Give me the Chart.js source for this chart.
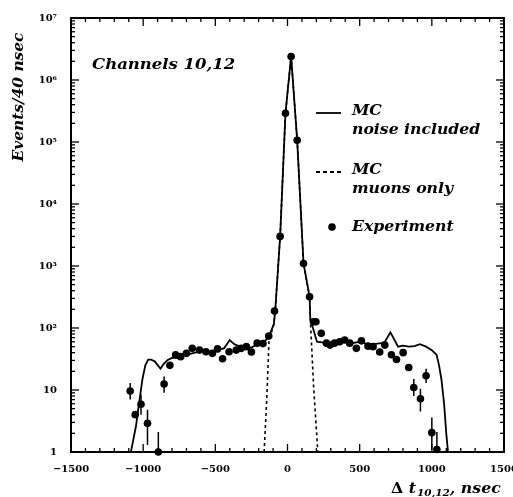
<!DOCTYPE html>
<html>
<head>
<meta charset="utf-8">
<script src="https://cdn.jsdelivr.net/npm/chart.js@4"></script>
<style>
  html,body{margin:0;padding:0;background:#fff;}
  canvas{display:block;}
</style>
</head>
<body>
<canvas id="chart" width="513" height="497"></canvas>
<script>
// ---------- data ----------
const xTickValues = [-1500, -1000, -500, 0, 500, 1000, 1500];
const yTickValues = [1, 10, 100, 1e3, 1e4, 1e5, 1e6, 1e7];
const yTickLabels = ['1', '10', '10²', '10³', '10⁴', '10⁵', '10⁶', '10⁷'];

// MC, noise included (solid)
const mcNoiseX = [-1085,-1050,-1025,-1005,-985,-965,-947,-920,-880,-860,-830,-800,-760,-720,-680,-640,-600,-560,-520,-480,-440,-400,-370,-330,-290,-250,-210,-170,-130,-95,-85,-51,-14,25,67,111,153,158,204,250,300,350,400,450,500,550,600,650,675,713,766,800,840,880,917,960,1000,1033,1050,1067,1085,1100,1112];
const mcNoiseY = [1,2.6,7,15,25,31,31,29,22,26,30.5,33,33,37,38,40,42,43,40,45,47,64,55,50,52,48,55,57,72,115,190,3000,2.9e5,2.4e6,1.07e5,1100,320,140,60,58,58,60,62,57,60,55,55,57,60,85,50,52,50,51,55,50,44,37,25,14.5,6,2,1];

// MC, muons only (dashed)
const mcMuonX = [-162,-144,-128,-95,-85,-51,-14,25,67,111,153,158,181,210];
const mcMuonY = [1,6.9,62,115,190,3000,2.9e5,2.4e6,1.07e5,1100,320,140,11.3,1];

// Experiment
const expX = [-1090,-1055,-1015,-970,-895,-855,-815,-775,-740,-700,-660,-610,-565,-520,-485,-450,-405,-355,-320,-285,-250,-210,-170,-130,-90,-51,-14,25,67,111,153,180,197,234,270,295,326,361,396,431,477,512,558,593,639,674,720,755,801,840,875,921,960,1000,1035];
const expY = [9.6,4.0,5.9,2.9,1.0,12.5,25,37,34.5,39,47,44,41.5,39,46,32,41.5,44,47,50,41,57,56,74,188,3000,2.9e5,2.4e6,1.07e5,1100,320,126,126,82,57,53,57,60,64,57,47,62,51,50,41,53,37,31,40,23,11,7.2,17,2.05,1.1];
// error bars where they show outside the markers (null = hidden)
const expErrLo = [7,null,4,1.3,1,9,null,null,null,null,null,null,null,null,null,null,null,null,null,null,null,null,null,null,null,null,null,null,null,null,null,null,null,null,null,null,null,null,null,null,null,null,null,null,null,null,null,null,null,null,8,4.5,13,1.1,1];
const expErrHi = [13,null,8.5,4.8,2.1,16.5,null,null,null,null,null,null,null,null,null,null,null,null,null,null,null,null,null,null,null,null,null,null,null,null,null,null,null,null,null,null,null,null,null,null,null,null,null,null,null,null,null,null,null,null,15,10.5,22,3.6,2.1];

const pts = (xs, ys) => xs.map((x, i) => ({x: x, y: ys[i]}));

// ---------- plugins ----------
const serif = '"DejaVu Serif", "Liberation Serif", serif';

const errorBars = {
    id: 'errorBars',
    afterDatasetsDraw(chart){
        const ctx = chart.ctx, x = chart.scales.x, y = chart.scales.y;
        ctx.save();
        ctx.strokeStyle = '#000';
        ctx.lineWidth = 1.5;
        expX.forEach((v, i) => {
            if(expErrLo[i] == null) return;
            const px = x.getPixelForValue(v);
            ctx.beginPath();
            ctx.moveTo(px, y.getPixelForValue(expErrLo[i]));
            ctx.lineTo(px, y.getPixelForValue(expErrHi[i]));
            ctx.stroke();
        });
        ctx.restore();
    }
};

// text a bit wider than the font gives, like the old bookman lettering
function wideText(ctx, s, x, y, sx){
    ctx.save();
    ctx.translate(x, y);
    ctx.scale(sx, 1);
    ctx.fillText(s, 0, 0);
    ctx.restore();
    return ctx.measureText(s).width * sx;
}

const frame = {
    id: 'frame',
    afterDraw(chart){
        const ctx = chart.ctx, a = chart.chartArea, x = chart.scales.x, y = chart.scales.y;
        ctx.save();
        ctx.strokeStyle = '#000';
        ctx.lineWidth = 1.3;

        function seg(x1, y1, x2, y2){
            ctx.beginPath(); ctx.moveTo(x1, y1); ctx.lineTo(x2, y2); ctx.stroke();
        }

        // x ticks, inward, bottom and top
        for(let v = -1500; v <= 1500; v += 100){
            const px = x.getPixelForValue(v);
            const len = v % 500 === 0 ? 8 : 4;
            seg(px, a.bottom, px, a.bottom - len);
            seg(px, a.top, px, a.top + len);
        }
        // y ticks (log), inward, left and right
        for(let d = 0; d < 7; d++){
            for(let m = 1; m < 10; m++){
                const py = y.getPixelForValue(m * Math.pow(10, d));
                const len = m === 1 ? 8 : 4;
                seg(a.left, py, a.left + len, py);
                seg(a.right, py, a.right - len, py);
            }
        }

        // box
        ctx.lineWidth = 2;
        ctx.strokeRect(a.left, a.top, a.right - a.left, a.bottom - a.top);

        // texts
        ctx.fillStyle = '#000';
        ctx.textBaseline = 'middle';
        ctx.textAlign = 'left';
        ctx.font = 'italic bold 15px ' + serif;
        wideText(ctx, 'Channels 10,12', 92, 65, 1.1);

        // legend
        ctx.lineWidth = 1.8;
        seg(316, 113, 341, 113);
        ctx.setLineDash([4, 3]);
        seg(316, 172, 342, 172);
        ctx.setLineDash([]);
        ctx.beginPath();
        ctx.arc(332, 227, 3.8, 0, Math.PI * 2);
        ctx.fill();

        ctx.font = 'italic bold 14px ' + serif;
        wideText(ctx, 'MC', 352, 111, 1.12);
        wideText(ctx, 'noise included', 352, 130, 1.12);
        wideText(ctx, 'MC', 352, 170, 1.12);
        wideText(ctx, 'muons only', 352, 189, 1.12);
        wideText(ctx, 'Experiment', 352, 227, 1.12);

        // y title
        ctx.save();
        ctx.translate(19, 97);
        ctx.rotate(-Math.PI / 2);
        ctx.font = 'italic bold 14px ' + serif;
        const w = ctx.measureText('Events/40 nsec').width * 1.1;
        wideText(ctx, 'Events/40 nsec', -w / 2, 0, 1.1);
        ctx.restore();

        // x title with subscript
        let tx = 391;
        const ty = 489;
        ctx.font = 'bold 15px ' + serif;
        tx += wideText(ctx, 'Δ ', tx, ty, 1.05);
        ctx.font = 'italic bold 15px ' + serif;
        tx += wideText(ctx, 't', tx, ty, 1.05) + 1;
        ctx.font = 'italic bold 10px ' + serif;
        tx += wideText(ctx, '10,12', tx, ty + 4, 1.05);
        ctx.font = 'italic bold 15px ' + serif;
        wideText(ctx, ', nsec', tx, ty, 1.05);

        ctx.restore();
    }
};

// ---------- chart ----------
new Chart(document.getElementById('chart'), {
    type: 'scatter',
    data: {
        datasets: [
            {
                label: 'MC noise included',
                data: pts(mcNoiseX, mcNoiseY),
                showLine: true,
                borderColor: '#000',
                borderWidth: 1.8,
                pointRadius: 0,
                tension: 0,
                order: 2
            },
            {
                label: 'MC muons only',
                data: pts(mcMuonX, mcMuonY),
                showLine: true,
                borderColor: '#000',
                borderWidth: 1.6,
                borderDash: [3, 3],
                pointRadius: 0,
                tension: 0,
                order: 3
            },
            {
                label: 'Experiment',
                data: pts(expX, expY),
                showLine: false,
                pointRadius: 3.8,
                pointBackgroundColor: '#000',
                pointBorderColor: '#000',
                pointBorderWidth: 0,
                clip: false,
                order: 1
            }
        ]
    },
    options: {
        responsive: false,
        animation: false,
        devicePixelRatio: 1,
        layout: {
            autoPadding: false,
            padding: {left: 0, top: 18, right: 9, bottom: 0}
        },
        plugins: {
            legend: {display: false},
            tooltip: {enabled: false}
        },
        scales: {
            x: {
                type: 'linear',
                min: -1500,
                max: 1500,
                afterBuildTicks: s => { s.ticks = xTickValues.map(v => ({value: v})); },
                afterFit: s => { s.height = 45; s.paddingLeft = 0; s.paddingRight = 0; },
                ticks: {
                    color: '#000',
                    padding: 3,
                    maxRotation: 0,
                    font: {family: serif, size: 10, weight: 'bold'},
                    callback: v => v < 0 ? '−' + Math.abs(v) : String(v)
                },
                grid: {display: false},
                border: {display: false}
            },
            y: {
                type: 'logarithmic',
                min: 1,
                max: 1e7,
                afterBuildTicks: s => { s.ticks = yTickValues.map(v => ({value: v})); },
                afterFit: s => { s.width = 71; s.paddingTop = 0; s.paddingBottom = 0; },
                ticks: {
                    color: '#000',
                    padding: 6,
                    font: {family: serif, size: 10, weight: 'bold'},
                    callback: v => yTickLabels[yTickValues.indexOf(v)]
                },
                grid: {display: false},
                border: {display: false}
            }
        }
    },
    plugins: [errorBars, frame]
});
</script>
</body>
</html>
